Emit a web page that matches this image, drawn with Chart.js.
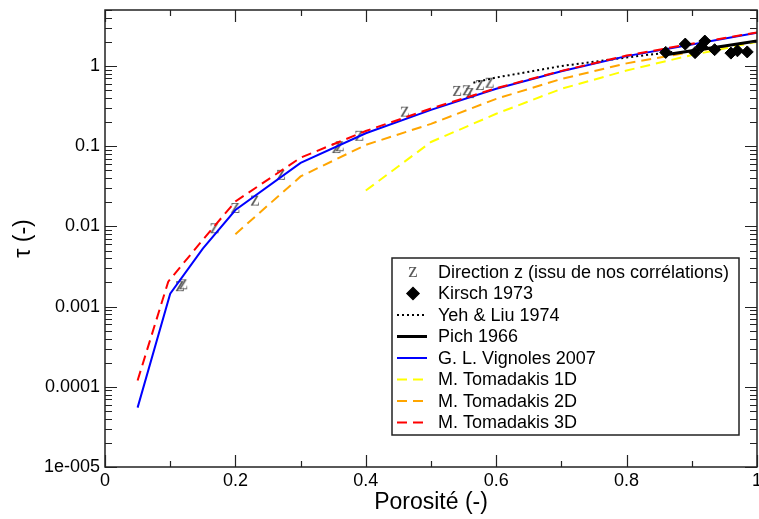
<!DOCTYPE html>
<html>
<head>
<meta charset="utf-8">
<title>Tortuosité</title>
<script src="https://cdn.jsdelivr.net/npm/chart.js@4.4.0/dist/chart.umd.min.js"></script>
<style>
    body { margin: 0; background: #fff; }
    #wrap { width: 759px; height: 519px; }
</style>
</head>
<body>
<div id="wrap"><canvas id="tauChart"></canvas></div>
<script>
// Données
const porosityVignoles = [0.05, 0.1, 0.15, 0.2, 0.3, 0.4, 0.5, 0.6, 0.7, 0.8, 0.9, 1.0];
const tauVignoles = [5.5e-5, 1.45e-3, 5.3e-3, 0.016, 0.062, 0.145, 0.284, 0.52, 0.86, 1.33, 1.86, 2.6];

const porosityTom3D = [0.05, 0.097, 0.15, 0.2, 0.3, 0.4, 0.5, 0.6, 0.7, 0.8, 0.9, 1.0];
const tauTom3D = [1.2e-4, 2.05e-3, 6.8e-3, 0.0205, 0.072, 0.155, 0.295, 0.53, 0.87, 1.35, 1.9, 2.62];

const porosityTom2D = [0.2, 0.3, 0.4, 0.5, 0.6, 0.7, 0.8, 0.9, 1.0];
const tauTom2D = [0.008, 0.042, 0.104, 0.19, 0.39, 0.69, 1.08, 1.5, 2.05];

const porosityTom1D = [0.4, 0.5, 0.6, 0.7, 0.8, 0.9, 1.0];
const tauTom1D = [0.028, 0.113, 0.254, 0.52, 0.88, 1.37, 2.0];

const porosityPich = [0.86, 0.9, 0.95, 1.0];
const tauPich = [1.38, 1.55, 1.78, 2.05];

const porosityYeh = [0.565, 0.6, 0.7, 0.8, 0.87];
const tauYeh = [0.62, 0.72, 1.0, 1.28, 1.5];

const porosityKirsch = [0.86, 0.89, 0.905, 0.915, 0.92, 0.935, 0.96, 0.97, 0.985];
const tauKirsch = [1.48, 1.88, 1.47, 1.75, 2.05, 1.6, 1.45, 1.55, 1.5];

const porosityDirZ = [0.115, 0.12, 0.168, 0.2, 0.23, 0.27, 0.355, 0.36, 0.39, 0.46, 0.54, 0.555, 0.56, 0.575, 0.59];
const tauDirZ = [0.0018, 0.0019, 0.0095, 0.017, 0.021, 0.044, 0.095, 0.1, 0.135, 0.27, 0.49, 0.5, 0.46, 0.58, 0.62];

const xTickValues = [0, 0.2, 0.4, 0.6, 0.8, 1];
const xTickLabels = ['0', '0.2', '0.4', '0.6', '0.8', '1'];
const yTickValues = [1e-5, 1e-4, 1e-3, 1e-2, 1e-1, 1];
const yTickLabels = ['1e-005', '0.0001', '0.001', '0.01', '0.1', '1'];

const FONT = "'Liberation Sans', Arial, sans-serif";

function toPoints(xs, ys) {
    return xs.map((x, i) => ({ x: x, y: ys[i] }));
}

// Marqueur "z" dessiné sur un petit canvas
function makeZMarker() {
    const c = document.createElement('canvas');
    c.width = 16;
    c.height = 20;
    const g = c.getContext('2d');
    g.font = "21px 'Liberation Serif', serif";
    g.fillStyle = '#5a5a5a';
    g.textAlign = 'center';
    g.textBaseline = 'alphabetic';
    g.fillText('z', 8, 15);
    return c;
}
const zMarker = makeZMarker();

// Cadre, graduations intérieures et légende
const framePlugin = {
    id: 'frameAndLegend',
    afterDraw(chart) {
        const ctx = chart.ctx;
        const area = chart.chartArea;
        const xs = chart.scales.x;
        const ys = chart.scales.y;
        ctx.save();
        ctx.strokeStyle = '#222';
        ctx.lineWidth = 1.5;
        ctx.strokeRect(area.left, area.top, area.right - area.left, area.bottom - area.top);

        ctx.lineWidth = 1.2;
        ctx.beginPath();
        for (let i = 0; i <= 10; i++) {
            const px = Math.round(xs.getPixelForValue(i / 10)) + 0.5;
            const len = i % 2 === 0 ? 12 : 6;
            ctx.moveTo(px, area.bottom); ctx.lineTo(px, area.bottom - len);
            ctx.moveTo(px, area.top); ctx.lineTo(px, area.top + len);
        }
        for (let e = -5; e <= 0; e++) {
            for (let m = 1; m <= 9; m++) {
                const v = m * Math.pow(10, e);
                if (v > ys.max) break;
                const py = Math.round(ys.getPixelForValue(v)) + 0.5;
                const len = m === 1 ? 12 : 7;
                ctx.moveTo(area.left, py); ctx.lineTo(area.left + len, py);
                ctx.moveTo(area.right, py); ctx.lineTo(area.right - len, py);
            }
        }
        ctx.stroke();

        // légende
        const box = { left: 392, top: 258, width: 347, height: 177 };
        ctx.fillStyle = '#fff';
        ctx.fillRect(box.left, box.top, box.width, box.height);
        ctx.strokeStyle = '#222';
        ctx.lineWidth = 1.5;
        ctx.strokeRect(box.left, box.top, box.width, box.height);

        ctx.font = '18px ' + FONT;
        ctx.textBaseline = 'middle';
        ctx.textAlign = 'left';
        chart.data.datasets.forEach((ds, i) => {
            const y = box.top + 14 + i * 21.5;
            if (ds.showLine) {
                ctx.save();
                ctx.strokeStyle = ds.borderColor;
                ctx.lineWidth = ds.borderWidth;
                ctx.setLineDash(ds.borderDash || []);
                ctx.beginPath();
                ctx.moveTo(box.left + 5, y);
                ctx.lineTo(box.left + 35, y);
                ctx.stroke();
                ctx.restore();
            } else {
                ctx.save();
                ctx.fillStyle = ds.backgroundColor;
                ctx.strokeStyle = ds.borderColor;
                Chart.helpers.drawPoint(ctx, {
                    pointStyle: ds.pointStyle,
                    radius: ds.pointRadius,
                    rotation: 0,
                    borderWidth: 1
                }, box.left + 21, y);
                ctx.restore();
            }
            ctx.fillStyle = '#000';
            ctx.fillText(ds.label, box.left + 46, y + 1);
        });
        ctx.restore();
    }
};

const ctx = document.getElementById('tauChart');
new Chart(ctx, {
    type: 'scatter',
    data: {
        datasets: [
            {
                label: 'Direction z (issu de nos corrélations)',
                data: toPoints(porosityDirZ, tauDirZ),
                pointStyle: zMarker,
                pointRadius: 6,
                showLine: false,
                backgroundColor: '#5a5a5a',
                borderColor: '#5a5a5a',
                order: 9
            },
            {
                label: 'Kirsch 1973',
                data: toPoints(porosityKirsch, tauKirsch),
                pointStyle: 'rectRot',
                pointRadius: 6,
                showLine: false,
                backgroundColor: '#000',
                borderColor: '#000',
                order: 1
            },
            {
                label: 'Yeh & Liu 1974',
                data: toPoints(porosityYeh, tauYeh),
                showLine: true,
                pointRadius: 0,
                borderColor: '#000',
                borderWidth: 2,
                borderDash: [2, 3],
                order: 5
            },
            {
                label: 'Pich 1966',
                data: toPoints(porosityPich, tauPich),
                showLine: true,
                pointRadius: 0,
                borderColor: '#000',
                borderWidth: 3,
                order: 4
            },
            {
                label: 'G. L. Vignoles 2007',
                data: toPoints(porosityVignoles, tauVignoles),
                showLine: true,
                pointRadius: 0,
                borderColor: '#0000ff',
                borderWidth: 2,
                order: 3
            },
            {
                label: 'M. Tomadakis 1D',
                data: toPoints(porosityTom1D, tauTom1D),
                showLine: true,
                pointRadius: 0,
                borderColor: '#ffff00',
                borderWidth: 2,
                borderDash: [10, 6],
                order: 7
            },
            {
                label: 'M. Tomadakis 2D',
                data: toPoints(porosityTom2D, tauTom2D),
                showLine: true,
                pointRadius: 0,
                borderColor: '#ffa500',
                borderWidth: 2,
                borderDash: [10, 6],
                order: 6
            },
            {
                label: 'M. Tomadakis 3D',
                data: toPoints(porosityTom3D, tauTom3D),
                showLine: true,
                pointRadius: 0,
                borderColor: '#ff0000',
                borderWidth: 2,
                borderDash: [10, 6],
                order: 2
            }
        ]
    },
    options: {
        responsive: true,
        maintainAspectRatio: false,
        animation: false,
        layout: { autoPadding: false, padding: { top: 10, right: 2, left: 0, bottom: 0 } },
        plugins: {
            legend: { display: false },
            tooltip: { enabled: false }
        },
        scales: {
            x: {
                type: 'linear',
                min: 0,
                max: 1,
                grid: { display: false, drawTicks: false },
                border: { display: false },
                afterBuildTicks: scale => {
                    scale.ticks = xTickValues.map(v => ({ value: v }));
                },
                afterFit: scale => {
                    scale.height = 52;
                    scale.paddingLeft = 0;
                    scale.paddingRight = 0;
                },
                ticks: {
                    autoSkip: false,
                    maxRotation: 0,
                    padding: 3,
                    color: '#000',
                    font: { family: FONT, size: 18 },
                    callback: value => xTickLabels[xTickValues.indexOf(value)]
                },
                title: {
                    display: true,
                    text: 'Porosité (-)',
                    color: '#000',
                    font: { family: FONT, size: 23 },
                    padding: { top: 0, bottom: 3 }
                }
            },
            y: {
                type: 'logarithmic',
                min: 1e-5,
                max: 5,
                grid: { display: false, drawTicks: false },
                border: { display: false },
                afterBuildTicks: scale => {
                    scale.ticks = yTickValues.map(v => ({ value: v }));
                },
                afterFit: scale => {
                    scale.width = 105;
                    scale.paddingTop = 0;
                    scale.paddingBottom = 0;
                },
                ticks: {
                    autoSkip: false,
                    padding: 5,
                    color: '#000',
                    font: { family: FONT, size: 18 },
                    callback: value => yTickLabels[yTickValues.indexOf(value)]
                },
                title: {
                    display: true,
                    text: 'τ (-)',
                    color: '#000',
                    font: { family: FONT, size: 23 },
                    padding: { top: 10, bottom: 0 }
                }
            }
        }
    },
    plugins: [framePlugin]
});
</script>
</body>
</html>
